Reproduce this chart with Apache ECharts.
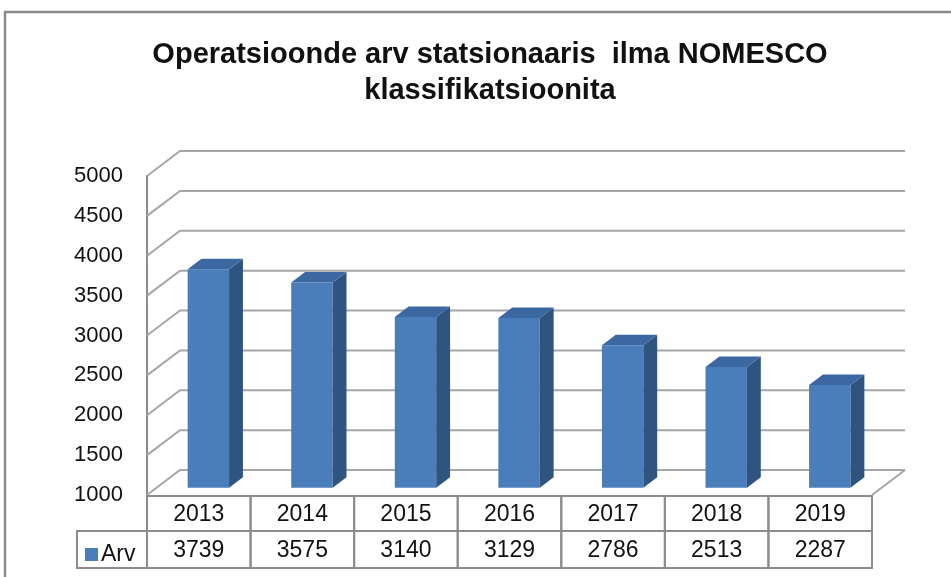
<!DOCTYPE html>
<html>
<head>
<meta charset="utf-8">
<script src="https://cdn.jsdelivr.net/npm/echarts@6/dist/echarts.min.js"></script>
<style>html,body{margin:0;padding:0;background:#fff}#main{width:951px;height:577px}</style>
</head>
<body>
<div id="main"></div>
<script>
var years = ['2013', '2014', '2015', '2016', '2017', '2018', '2019'];
var counts = [3739, 3575, 3140, 3129, 2786, 2513, 2287];
var yTicks = [1000, 1500, 2000, 2500, 3000, 3500, 4000, 4500, 5000];
var seriesName = 'Arv';

(function() {
    var chart = echarts.init(document.getElementById('main'));
    var DX = 33, DY = -25;       // depth of the 3d box
    var F0 = 0.29, F1 = 0.71;    // where the bars sit in that depth
    var gridColor = '#a6a6a6';
    var font = '"Liberation Sans", Arial, sans-serif';

    function txt(x, y, s) {
        return {
            type: 'text', x: x, y: y,
            style: {
                text: s, font: '23px ' + font, fill: '#111',
                align: 'center', verticalAlign: 'middle',
                textAlign: 'center', textVerticalAlign: 'middle'
            }
        };
    }

    function renderWall(params, api) {
        var cs = params.coordSys;
        var y = api.coord([0, api.value(1)])[1];
        var x0 = cs.x, x1 = cs.x + cs.width;
        var kids = [{
            type: 'polyline',
            shape: { points: [[x0, y], [x0 + DX, y + DY], [x1 + DX, y + DY]] },
            style: { stroke: gridColor, lineWidth: 2, fill: null }
        }];
        if (params.dataIndex === 0) {
            kids.push({
                type: 'line',
                shape: { x1: x1, y1: y, x2: x1 + DX, y2: y + DY },
                style: { stroke: gridColor, lineWidth: 2 }
            });
        }
        return { type: 'group', children: kids };
    }

    function renderBar(params, api) {
        var i = api.value(0);
        var base = api.coord([i, yTicks[0]]);
        var top = api.coord([i, api.value(1)]);
        var bw = api.size([1, 0])[0] * 0.4;
        var ox = DX * F0, oy = DY * F0;
        var dx = DX * (F1 - F0), dy = DY * (F1 - F0);
        var l = base[0] - bw / 2 + ox, r = l + bw;
        var b = base[1] + oy, t = top[1] + oy;
        return {
            type: 'group',
            children: [
                { type: 'rect', shape: { x: l, y: t, width: bw, height: b - t }, style: { fill: '#4a7ebb' } },
                { type: 'polygon', shape: { points: [[r, t], [r + dx, t + dy], [r + dx, b + dy], [r, b]] }, style: { fill: '#2f5480' } },
                { type: 'polygon', shape: { points: [[l, t], [l + dx, t + dy], [r + dx, t + dy], [r, t]] }, style: { fill: '#3c68a2' } }
            ]
        };
    }

    function renderTable(params, api) {
        var cs = params.coordSys;
        var i = api.value(0);
        var bw = api.size([1, 0])[0];
        var x = api.coord([i, yTicks[0]])[0] - bw / 2;
        var y0 = cs.y + cs.height + 1;
        var h1 = 35, h2 = 37;
        var line = { stroke: '#8c8c8c', lineWidth: 2, fill: null };
        var kids = [
            { type: 'rect', shape: { x: x, y: y0, width: bw, height: h1 }, style: line },
            { type: 'rect', shape: { x: x, y: y0 + h1, width: bw, height: h2 }, style: line },
            txt(x + bw / 2, y0 + h1 / 2 + 1, years[i]),
            txt(x + bw / 2, y0 + h1 + h2 / 2 + 1, String(api.value(1)))
        ];
        if (i === 0) {
            kids.push({ type: 'rect', shape: { x: 77, y: y0 + h1, width: x - 77, height: h2 }, style: line });
        }
        return { type: 'group', children: kids };
    }

    var option = {
        backgroundColor: '#fff',
        animation: false,
        title: {
            text: 'Operatsioonde arv statsionaaris  ilma NOMESCO\nklassifikatsioonita',
            left: 485,
            textAlign: 'center',
            top: 32,
            textStyle: {
                fontFamily: font,
                fontSize: 29,
                fontWeight: 'bold',
                color: '#111',
                lineHeight: 36
            }
        },
        legend: {
            data: [seriesName],
            left: 80,
            top: 538,
            icon: 'rect',
            itemWidth: 13,
            itemHeight: 13,
            itemGap: 4,
            textStyle: { fontFamily: font, fontSize: 23, color: '#111', padding: [0, 0, 0, -2] }
        },
        grid: { left: 147, right: 79, top: 176, bottom: 82 },
        xAxis: {
            type: 'category',
            data: years,
            show: false
        },
        yAxis: {
            type: 'value',
            min: 1000,
            max: 5000,
            interval: 500,
            axisLine: { show: true, lineStyle: { color: '#8c8c8c', width: 2 } },
            axisTick: { show: false },
            splitLine: { show: false },
            axisLabel: {
                margin: 24, fontFamily: font, fontSize: 22, color: '#111',
                formatter: function(v) { return String(v); }
            }
        },
        graphic: [{
            type: 'polyline',
            shape: { points: [[5, 577], [5, 12], [951, 12]] },
            style: { stroke: '#8a8a8a', lineWidth: 2.5, fill: null }
        }],
        series: [{
            name: 'wall',
            type: 'custom',
            renderItem: renderWall,
            data: yTicks.map(function(v) { return [0, v]; }),
            silent: true,
            z: 1
        }, {
            name: seriesName,
            type: 'custom',
            renderItem: renderBar,
            itemStyle: { color: '#4a7ebb' },
            data: counts.map(function(v, i) { return [i, v]; }),
            z: 3
        }, {
            name: 'table',
            type: 'custom',
            renderItem: renderTable,
            data: counts.map(function(v, i) { return [i, v]; }),
            silent: true,
            clip: false,
            z: 2
        }]
    };

    chart.setOption(option);
    window.addEventListener('resize', function() {
        chart.resize();
    });
})();
</script>
</body>
</html>
